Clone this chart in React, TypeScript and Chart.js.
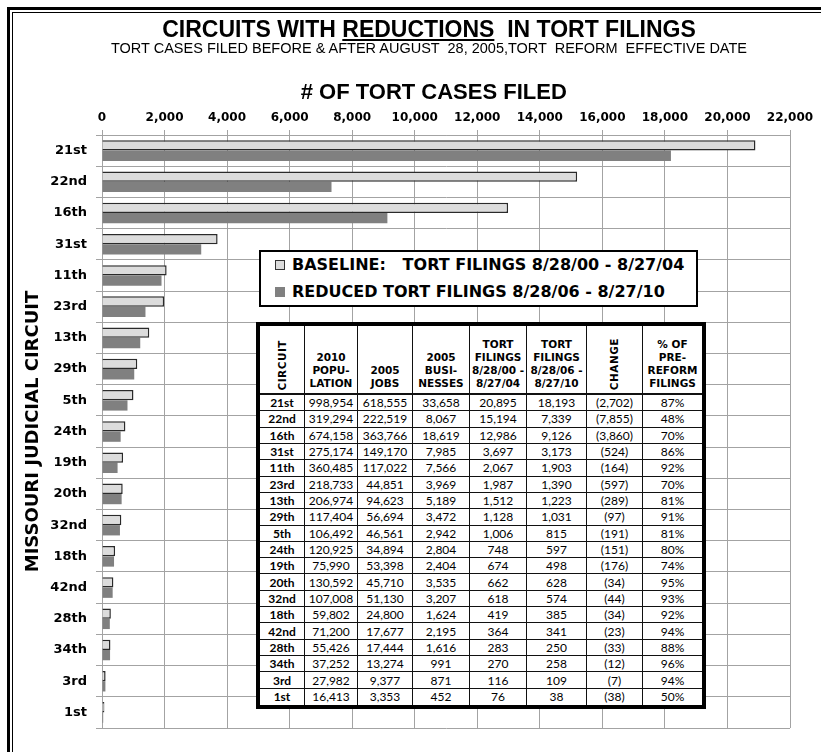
import React, { useEffect, useRef } from 'react';
import { Chart, registerables } from 'chart.js';

Chart.register(...registerables);

const circuits = ['21st', '22nd', '16th', '31st', '11th', '23rd', '13th', '29th', '5th', '24th', '19th', '20th', '32nd', '18th', '42nd', '28th', '34th', '3rd', '1st'];
const population = [998954, 319294, 674158, 275174, 360485, 218733, 206974, 117404, 106492, 120925, 75990, 130592, 107008, 59802, 71200, 55426, 37252, 27982, 16413];
const jobs = [618555, 222519, 363766, 149170, 117022, 44851, 94623, 56694, 46561, 34894, 53398, 45710, 51130, 24800, 17677, 17444, 13274, 9377, 3353];
const businesses = [33658, 8067, 18619, 7985, 7566, 3969, 5189, 3472, 2942, 2804, 2404, 3535, 3207, 1624, 2195, 1616, 991, 871, 452];
const baselineFilings = [20895, 15194, 12986, 3697, 2067, 1987, 1512, 1128, 1006, 748, 674, 662, 618, 419, 364, 283, 270, 116, 76];
const reducedFilings = [18193, 7339, 9126, 3173, 1903, 1390, 1223, 1031, 815, 597, 498, 628, 574, 385, 341, 250, 258, 109, 38];
const changeValues = [-2702, -7855, -3860, -524, -164, -597, -289, -97, -191, -151, -176, -34, -44, -34, -23, -33, -12, -7, -38];
const pctOfPreReform = [87, 48, 70, 86, 92, 70, 81, 91, 81, 80, 74, 95, 93, 92, 94, 88, 96, 94, 50];

const seriesLabels = ['BASELINE:   TORT FILINGS 8/28/00 - 8/27/04', 'REDUCED TORT FILINGS 8/28/06 - 8/27/10'];
const xAxisMax = 22000;
const xAxisStep = 2000;

const headerLines: string[][] = [
  ['CIRCUIT'],
  ['2010', 'POPU-', 'LATION'],
  ['2005', 'JOBS'],
  ['2005', 'BUSI-', 'NESSES'],
  ['TORT', 'FILINGS', '8/28/00 -', '8/27/04'],
  ['TORT', 'FILINGS', '8/28/06 -', '8/27/10'],
  ['CHANGE'],
  ['% OF', 'PRE-', 'REFORM', 'FILINGS'],
];
const rotatedHeaders = [true, false, false, false, false, false, true, false];
const colWidths = [45, 53, 55, 57, 57, 60, 56, 59];

const fmt = (n: number) => n.toLocaleString('en-US');

const GRID = '#a3a3a3';

export default function App() {
  const ref = useRef<HTMLCanvasElement>(null);

  useEffect(() => {
    const chart = new Chart(ref.current!, {
      type: 'bar',
      data: {
        labels: circuits,
        datasets: [
          {
            label: seriesLabels[0],
            data: baselineFilings,
            backgroundColor: '#dcdcdc',
            borderColor: '#2a2a2a',
            borderWidth: 1.5,
            categoryPercentage: 0.66,
            barPercentage: 1,
          },
          {
            label: seriesLabels[1],
            data: reducedFilings,
            backgroundColor: '#808080',
            borderWidth: 0,
            categoryPercentage: 0.66,
            barPercentage: 1,
          },
        ],
      },
      options: {
        indexAxis: 'y',
        animation: false,
        responsive: false,
        devicePixelRatio: 1,
        layout: { padding: { top: 70, left: 0, right: 31, bottom: 24 } },
        plugins: {
          legend: { display: false },
          tooltip: { enabled: false },
        },
        scales: {
          x: {
            position: 'top',
            min: 0,
            max: xAxisMax,
            ticks: {
              stepSize: xAxisStep,
              autoSkip: false,
              maxRotation: 0,
              padding: 5,
              color: '#000',
              font: { family: 'DejaVu Sans', weight: 'bold', size: 12 },
            },
            grid: { color: GRID, lineWidth: 1, tickLength: 5 },
            border: { color: GRID },
            title: {
              display: true,
              text: '# OF TORT CASES FILED    ',
              color: '#000',
              font: { family: 'Liberation Sans', weight: 'bold', size: 22 },
              padding: { top: 10, bottom: 0 },
            },
            afterFit: (s: any) => {
              s.height = 65;
            },
          },
          y: {
            ticks: {
              color: '#000',
              padding: 9,
              autoSkip: false,
              font: { family: 'DejaVu Sans', weight: 'bold', size: 13 },
            },
            grid: { color: GRID, lineWidth: 1, tickLength: 6, offset: true },
            border: { color: GRID },
            title: {
              display: true,
              text: 'MISSOURI JUDICIAL CIRCUIT',
              color: '#000',
              font: { family: 'DejaVu Sans', weight: 'bold', size: 18 },
              padding: { top: 23, bottom: 0 },
            },
            afterFit: (s: any) => {
              s.width = 102;
            },
          },
        },
      },
    });
    return () => chart.destroy();
  }, []);

  const headerStyle: React.CSSProperties = {
    fontFamily: 'DejaVu Sans',
    fontWeight: 'bold',
    fontSize: 10.5,
    lineHeight: '13px',
    display: 'flex',
    flexDirection: 'column',
    justifyContent: 'flex-end',
    alignItems: 'center',
    textAlign: 'center',
    paddingBottom: 3,
    boxSizing: 'border-box',
    color: '#000',
  };

  const rows = circuits.map((c, i) => [
    c,
    fmt(population[i]),
    fmt(jobs[i]),
    fmt(businesses[i]),
    fmt(baselineFilings[i]),
    fmt(reducedFilings[i]),
    changeValues[i] < 0 ? `(${fmt(Math.abs(changeValues[i]))})` : fmt(changeValues[i]),
    `${pctOfPreReform[i]}%`,
  ]);

  const nCols = colWidths.length;
  const nRows = rows.length;

  return (
    <div style={{ position: 'absolute', left: 0, top: 0, width: 821, height: 752, background: '#fff', overflow: 'hidden' }}>
      <canvas ref={ref} width={821} height={752} style={{ position: 'absolute', left: 0, top: 0, width: 821, height: 752 }} />

      {/* frame */}
      <div style={{ position: 'absolute', left: 7, top: 7, width: 3, height: 760, background: '#000' }} />
      <div style={{ position: 'absolute', left: 7, top: 7, width: 830, height: 3, background: '#000' }} />
      <div style={{ position: 'absolute', left: 12, top: 12, width: 1, height: 760, background: '#000' }} />
      <div style={{ position: 'absolute', left: 12, top: 12, width: 830, height: 1, background: '#000' }} />

      {/* titles */}
      <div
        style={{
          position: 'absolute',
          left: 0,
          width: 858,
          top: 16,
          textAlign: 'center',
          fontFamily: 'Liberation Sans',
          fontWeight: 'bold',
          fontSize: 23,
          lineHeight: '26px',
          whiteSpace: 'pre',
          color: '#000',
        }}
      >
        CIRCUITS WITH <span style={{ textDecoration: 'underline', textDecorationThickness: 2, textUnderlineOffset: 2 }}>REDUCTIONS</span>  IN TORT FILINGS
      </div>
      <div
        style={{
          position: 'absolute',
          left: 0,
          width: 858,
          top: 40,
          textAlign: 'center',
          fontFamily: 'Liberation Sans',
          fontSize: 14.5,
          lineHeight: '17px',
          whiteSpace: 'pre',
          color: '#000',
        }}
      >
        TORT CASES FILED BEFORE &amp; AFTER AUGUST  28, 2005,TORT  REFORM  EFFECTIVE DATE
      </div>

      {/* legend */}
      <div
        style={{
          position: 'absolute',
          left: 259,
          top: 250,
          width: 439,
          height: 57,
          border: '2px solid #000',
          boxSizing: 'border-box',
          background: '#fff',
          fontFamily: 'DejaVu Sans',
          fontWeight: 'bold',
          fontSize: 16,
          color: '#000',
        }}
      >
        {seriesLabels.map((lab, k) => (
          <div key={k} style={{ position: 'absolute', left: 14, top: k === 0 ? 3 : 30, height: 20, lineHeight: '20px', whiteSpace: 'pre', display: 'flex', alignItems: 'center' }}>
            <span
              style={{
                display: 'inline-block',
                width: 10,
                height: 10,
                boxSizing: 'border-box',
                background: k === 0 ? '#dcdcdc' : '#808080',
                border: k === 0 ? '1px solid #333' : 'none',
                marginRight: 7,
              }}
            />
            <span>{lab}</span>
          </div>
        ))}
      </div>

      {/* data table */}
      <div
        style={{
          position: 'absolute',
          left: 256,
          top: 322,
          width: 450,
          height: 387,
          border: '4px solid #000',
          boxSizing: 'border-box',
          background: '#fff',
          display: 'grid',
          gridTemplateColumns: colWidths.map((w) => `${w}px`).join(' '),
          gridTemplateRows: `69px repeat(${nRows}, 1fr)`,
        }}
      >
        {headerLines.map((lines, ci) => (
          <div
            key={'h' + ci}
            style={{
              ...headerStyle,
              borderRight: ci < nCols - 1 ? '1px solid #111' : 'none',
              borderBottom: '2px solid #111',
            }}
          >
            {rotatedHeaders[ci] ? (
              <span style={{ writingMode: 'vertical-rl', transform: 'rotate(180deg)', letterSpacing: 0.5 }}>{lines[0]}</span>
            ) : (
              lines.map((l, li) => <span key={li} style={{ whiteSpace: 'pre' }}>{l}</span>)
            )}
          </div>
        ))}
        {rows.map((r, ri) =>
          r.map((cell, ci) => (
            <div
              key={ri + '-' + ci}
              style={{
                fontFamily: 'Lato',
                fontWeight: ci === 0 ? 'bold' : 'normal',
                fontSize: 12,
                display: 'flex',
                alignItems: 'center',
                justifyContent: 'center',
                boxSizing: 'border-box',
                borderRight: ci < nCols - 1 ? '1px solid #111' : 'none',
                borderBottom: ri < nRows - 1 ? '1px solid #111' : 'none',
                color: '#000',
                whiteSpace: 'pre',
              }}
            >
              {cell}
            </div>
          ))
        )}
      </div>
    </div>
  );
}
